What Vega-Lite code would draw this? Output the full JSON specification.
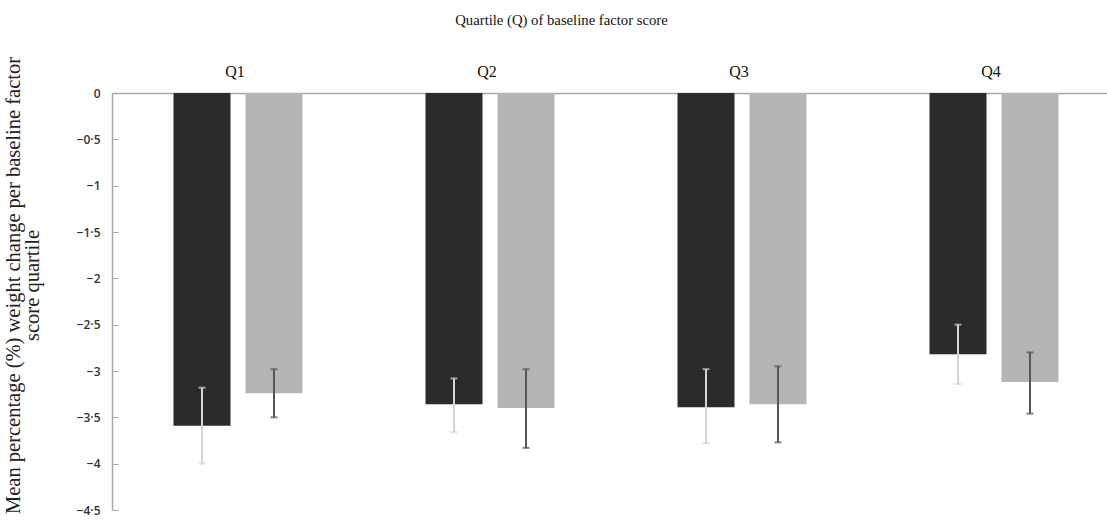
{
"$schema": "https://vega.github.io/schema/vega-lite/v6.json",
"width": 995, "height": 417,
"autosize": {"type": "none"},
"padding": {"left": 112, "top": 93, "right": 0, "bottom": 18},
"background": "white",
"config": {"view": {"stroke": null}},
"data": {"values": [
 {"q": "Q1", "g": "A", "mean": -3.59, "lo": -4.00, "hi": -3.18},
 {"q": "Q1", "g": "B", "mean": -3.24, "lo": -3.50, "hi": -2.98},
 {"q": "Q2", "g": "A", "mean": -3.36, "lo": -3.66, "hi": -3.08},
 {"q": "Q2", "g": "B", "mean": -3.40, "lo": -3.83, "hi": -2.98},
 {"q": "Q3", "g": "A", "mean": -3.39, "lo": -3.78, "hi": -2.98},
 {"q": "Q3", "g": "B", "mean": -3.36, "lo": -3.77, "hi": -2.95},
 {"q": "Q4", "g": "A", "mean": -2.82, "lo": -3.14, "hi": -2.50},
 {"q": "Q4", "g": "B", "mean": -3.12, "lo": -3.46, "hi": -2.80}
]},
"encoding": {
 "x": {"field": "q", "type": "nominal", "scale": {"paddingInner": 0.488, "paddingOuter": 0.244, "range": [0, 1008]},
  "axis": {"orient": "top", "title": "Quartile (Q) of baseline factor score", "labelAngle": 0, "ticks": false,
   "domainColor": "#a6a6a6", "domainWidth": 1.5, "labelFont": "Liberation Serif", "labelFontSize": 16, "labelColor": "#111",
   "labelPadding": 14, "labelOffset": -3, "titleFont": "Liberation Serif", "titleFontSize": 14.7, "titleFontWeight": "normal", "titleColor": "#111",
   "titleX": 449, "titleY": -73, "titleBaseline": "middle"}},
 "xOffset": {"field": "g", "type": "nominal", "scale": {"paddingInner": 0.208, "paddingOuter": 0}}
},
"layer": [
 {"mark": {"type": "bar"},
  "encoding": {
   "y": {"field": "mean", "type": "quantitative", "scale": {"domain": [-4.5, 0], "nice": false},
    "axis": {"values": [0, -0.5, -1, -1.5, -2, -2.5, -3, -3.5, -4, -4.5], "format": ".1~f",
     "labelExpr": "replace(datum.label, '.', '·')", "grid": false, "domainColor": "#a6a6a6", "domainWidth": 1.5,
     "tickColor": "#a6a6a6", "tickSize": -6, "labelPadding": 18, "labelFont": "Open Sans", "labelFontSize": 12, "labelFontWeight": 600, "labelColor": "#333",
     "title": ["Mean percentage (%) weight change per baseline factor", "score quartile"],
     "titleFont": "Liberation Serif", "titleFontSize": 20.5, "titleFontWeight": "normal", "titleColor": "#222",
     "titleAngle": -90, "titleX": -109, "titleY": 192, "titleBaseline": "top", "titleAlign": "center", "titleLineHeight": 19}},
   "y2": {"datum": 0},
   "color": {"field": "g", "type": "nominal", "scale": {"domain": ["A", "B"], "range": ["#2b2b2b", "#b5b5b5"]}, "legend": null}
  }},
 {"transform": [{"filter": "datum.g == 'A'"}], "mark": {"type": "rule", "color": "#d4d4d4", "strokeWidth": 2},
  "encoding": {"y": {"field": "lo", "type": "quantitative"}, "y2": {"field": "hi"}}},
 {"transform": [{"filter": "datum.g == 'B'"}], "mark": {"type": "rule", "color": "#555555", "strokeWidth": 2},
  "encoding": {"y": {"field": "lo", "type": "quantitative"}, "y2": {"field": "hi"}}},
 {"transform": [{"filter": "datum.g == 'A'"}], "mark": {"type": "tick", "color": "#d4d4d4", "size": 7, "thickness": 2},
  "encoding": {"y": {"field": "lo", "type": "quantitative"}}},
 {"transform": [{"filter": "datum.g == 'A'"}], "mark": {"type": "tick", "color": "#d4d4d4", "size": 7, "thickness": 2},
  "encoding": {"y": {"field": "hi", "type": "quantitative"}}},
 {"transform": [{"filter": "datum.g == 'B'"}], "mark": {"type": "tick", "color": "#555555", "size": 7, "thickness": 2},
  "encoding": {"y": {"field": "lo", "type": "quantitative"}}},
 {"transform": [{"filter": "datum.g == 'B'"}], "mark": {"type": "tick", "color": "#555555", "size": 7, "thickness": 2},
  "encoding": {"y": {"field": "hi", "type": "quantitative"}}}
]
}
